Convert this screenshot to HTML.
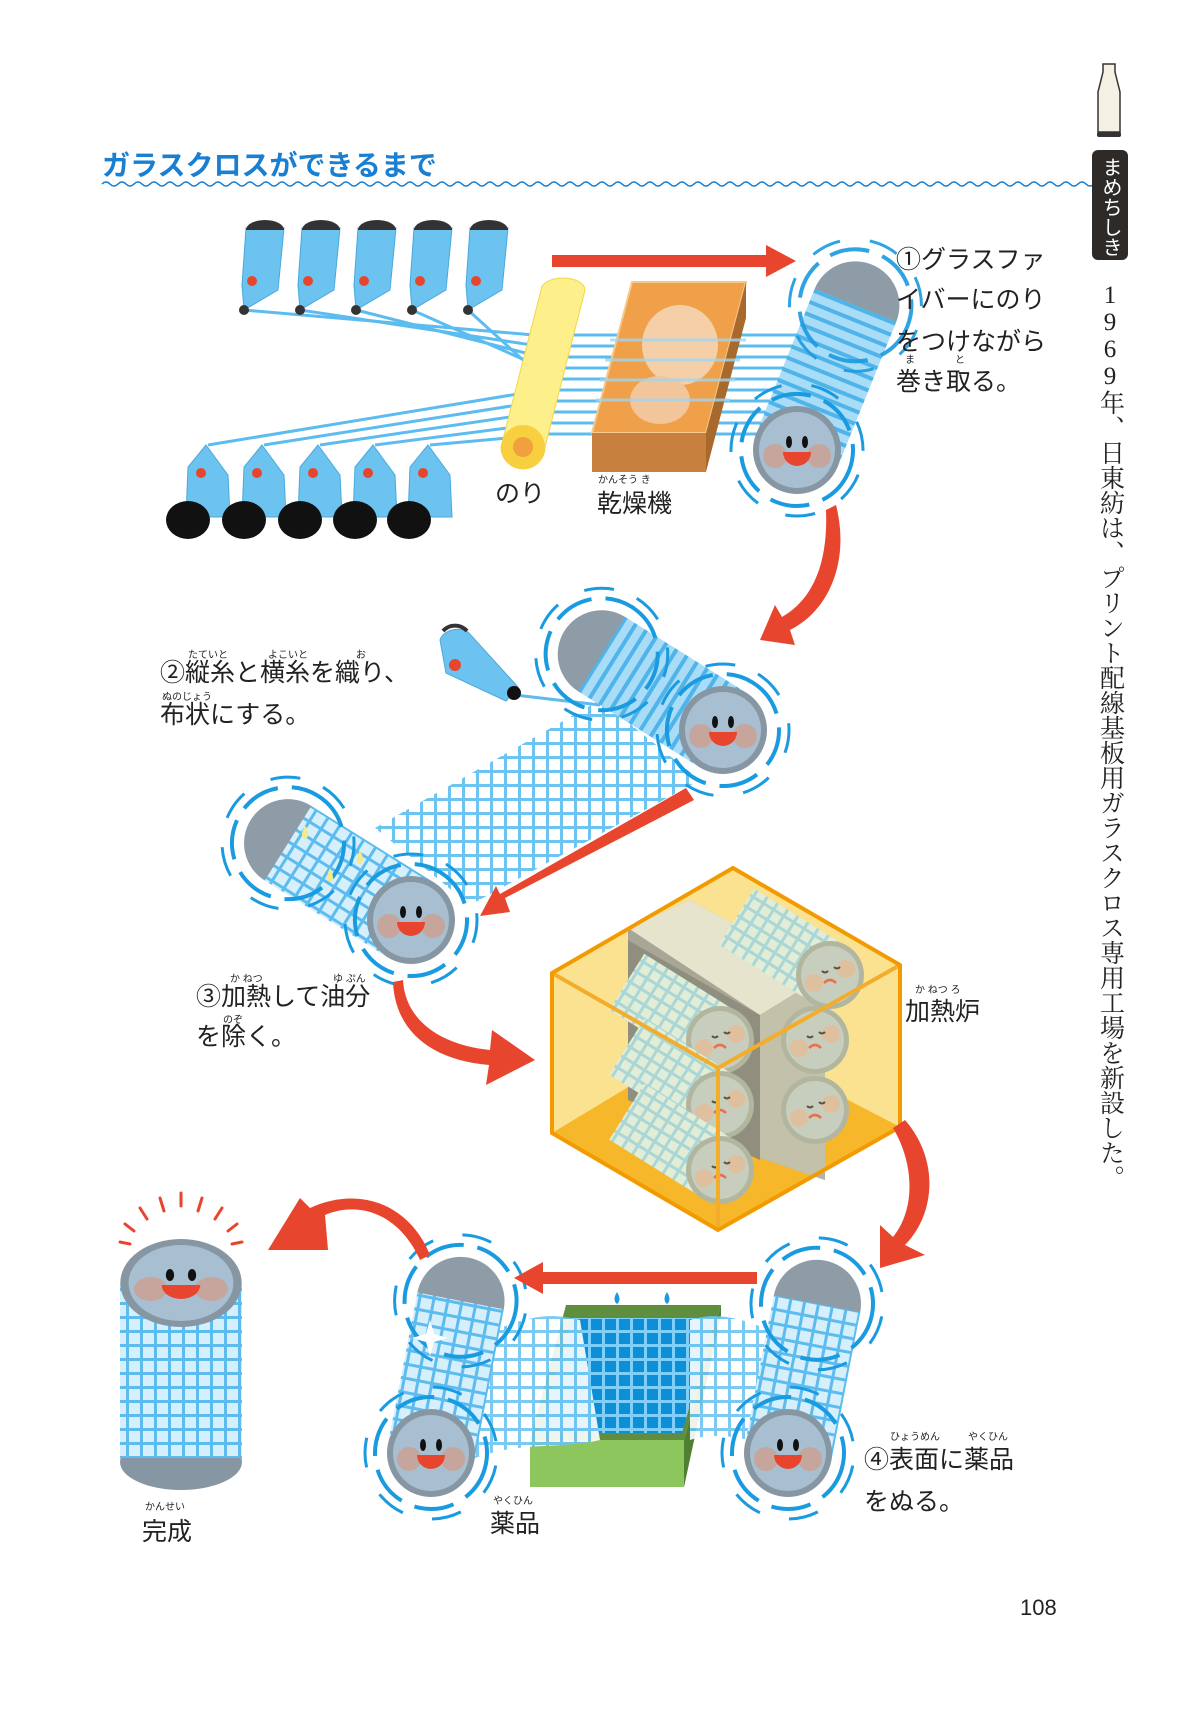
<!DOCTYPE html>
<html><head><meta charset="utf-8"><style>
html,body{margin:0;padding:0;background:#fff;}
svg{display:block}
text{font-family:"Liberation Sans","Noto Sans CJK JP",sans-serif;}
.t{font-size:25px;fill:#222}
.r{font-size:10px;fill:#222}
</style></head><body>
<svg width="1181" height="1733" viewBox="0 0 1181 1733" xmlns="http://www.w3.org/2000/svg">
<defs>
<pattern id="stripe" patternUnits="userSpaceOnUse" width="12" height="12"><rect width="12" height="12" fill="#a9dcf6"/><rect y="0" width="12" height="4" fill="#4fb4ea"/></pattern>
<pattern id="grid" patternUnits="userSpaceOnUse" width="14" height="14"><rect width="14" height="14" fill="#d6effc"/><rect width="14" height="3" fill="#5cbcf0"/><rect width="3" height="14" fill="#5cbcf0"/></pattern>
<pattern id="gridw" patternUnits="userSpaceOnUse" width="14" height="14"><rect width="14" height="14" fill="#fff"/><rect width="14" height="3" fill="#6cc4f2"/><rect width="3" height="14" fill="#6cc4f2"/></pattern>
<pattern id="gridg" patternUnits="userSpaceOnUse" width="12" height="12"><rect width="12" height="12" fill="#d8efe6"/><rect width="12" height="3" fill="#8fd0e6"/><rect width="3" height="12" fill="#8fd0e6"/></pattern>
<pattern id="gridb" patternUnits="userSpaceOnUse" width="14" height="14"><rect width="14" height="14" fill="#0d8fd8"/><rect width="14" height="3" fill="#7fd0f8"/><rect width="3" height="14" fill="#7fd0f8"/></pattern>
<g id="face">
<circle r="44" fill="#8796a3"/><circle r="38" fill="#a7bfd0"/>
<circle cx="-22" cy="6" r="12" fill="#c6a59c"/><circle cx="22" cy="6" r="12" fill="#c6a59c"/>
<ellipse cx="-8" cy="-8" rx="3" ry="6" fill="#111"/><ellipse cx="8" cy="-8" rx="3" ry="6" fill="#111"/>
<path d="M-14,2 L14,2 A14,14 0 0 1 -14,2 Z" fill="#e8452e"/>
</g>
<g id="sad">
<circle r="34" fill="#9aa69c"/><circle r="29" fill="#b6c6c4"/>
<circle cx="-16" cy="8" r="9" fill="#d4b39c"/><circle cx="16" cy="-6" r="9" fill="#d4b39c"/>
<path d="M-8,-4 q3,3 6,0 M4,-8 q3,3 6,0" stroke="#222" stroke-width="2" fill="none"/>
<path d="M-6,8 q6,-6 12,0" stroke="#e8452e" stroke-width="2.5" fill="none"/>
</g>
<g id="ring"><circle r="56" fill="none" stroke="#1a9be0" stroke-width="4" stroke-dasharray="40 14"/><circle r="66" fill="none" stroke="#1a9be0" stroke-width="3" stroke-dasharray="30 30"/></g>
</defs>

<!-- title -->
<text x="102" y="175" font-size="28" font-weight="bold" fill="#1a7fd0">ガラスクロスができるまで</text>
<path d="M102,184 q4,-4 8,0 t8,0 t8,0 t8,0 t8,0 t8,0 t8,0 t8,0 t8,0 t8,0 t8,0 t8,0 t8,0 t8,0 t8,0 t8,0 t8,0 t8,0 t8,0 t8,0 t8,0 t8,0 t8,0 t8,0 t8,0 t8,0 t8,0 t8,0 t8,0 t8,0 t8,0 t8,0 t8,0 t8,0 t8,0 t8,0 t8,0 t8,0 t8,0 t8,0 t8,0 t8,0 t8,0 t8,0 t8,0 t8,0 t8,0 t8,0 t8,0 t8,0 t8,0 t8,0 t8,0 t8,0 t8,0 t8,0 t8,0 t8,0 t8,0 t8,0 t8,0 t8,0 t8,0 t8,0 t8,0 t8,0 t8,0 t8,0 t8,0 t8,0 t8,0 t8,0 t8,0 t8,0 t8,0 t8,0 t8,0 t8,0 t8,0 t8,0 t8,0 t8,0 t8,0 t8,0 t8,0 t8,0 t8,0 t8,0 t8,0 t8,0 t8,0 t8,0 t8,0 t8,0 t8,0 t8,0 t8,0 t8,0 t8,0 t8,0 t8,0 t8,0 t8,0 t8,0 t8,0 t8,0 t8,0 t8,0 t8,0 t8,0 t8,0 t8,0 t8,0 t8,0 t8,0 t8,0 t8,0 t8,0 t8,0 t8,0 t8,0 t8,0 t8,0 t8,0 t8,0 t8,0 t8,0 t8,0" stroke="#1a7fd0" stroke-width="1.5" fill="none"/>

<!-- right column -->
<path d="M1103,64 h12 v8 l5,20 v40 h-22 v-40 l5,-20z" fill="#f4f1e4" stroke="#333" stroke-width="1.5"/>
<rect x="1097" y="132" width="24" height="5" rx="2" fill="#333"/>
<rect x="1092" y="150" width="36" height="110" rx="6" fill="#2e2a28"/>
<text x="1110" y="157" font-size="20" fill="#fff" style="writing-mode:vertical-rl;text-orientation:upright">まめちしき</text>
<text x="1110" y="282" font-size="25" fill="#222" style="writing-mode:vertical-rl;text-orientation:upright;font-family:'Liberation Serif','Noto Serif CJK SC',serif">1969年、日東紡は、プリント配線基板用ガラスクロス専用工場を新設した。</text>
<text x="1020" y="1615" font-size="22" fill="#222">108</text>

<!-- STEP 1 threads -->
<g stroke="#5cbcf0" stroke-width="3">
<line x1="244" y1="310" x2="545" y2="336"/><line x1="300" y1="310" x2="545" y2="347"/><line x1="356" y1="310" x2="545" y2="358"/><line x1="412" y1="310" x2="545" y2="369"/><line x1="468" y1="310" x2="545" y2="380"/>
<line x1="208" y1="445" x2="530" y2="392"/><line x1="264" y1="445" x2="530" y2="403"/><line x1="320" y1="445" x2="530" y2="414"/><line x1="375" y1="445" x2="530" y2="425"/><line x1="430" y1="445" x2="530" y2="436"/>
</g>
<g fill="#6cc3ef" stroke="#4aa8dc" stroke-width="1">
<path d="M246,228 h38 l-6,62 l-34,20 l-2,-25z"/><path d="M302,228 h38 l-6,62 l-34,20 l-2,-25z"/><path d="M358,228 h38 l-6,62 l-34,20 l-2,-25z"/><path d="M414,228 h38 l-6,62 l-34,20 l-2,-25z"/><path d="M470,228 h38 l-6,62 l-34,20 l-2,-25z"/>
</g>
<g fill="#333"><path d="M246,230 a19,10 0 0 1 38,0z"/><path d="M302,230 a19,10 0 0 1 38,0z"/><path d="M358,230 a19,10 0 0 1 38,0z"/><path d="M414,230 a19,10 0 0 1 38,0z"/><path d="M470,230 a19,10 0 0 1 38,0z"/>
<circle cx="244" cy="310" r="5"/><circle cx="300" cy="310" r="5"/><circle cx="356" cy="310" r="5"/><circle cx="412" cy="310" r="5"/><circle cx="468" cy="310" r="5"/></g>
<g fill="#e8452e"><circle cx="252" cy="281" r="5"/><circle cx="308" cy="281" r="5"/><circle cx="364" cy="281" r="5"/><circle cx="420" cy="281" r="5"/><circle cx="476" cy="281" r="5"/></g>
<g fill="#6cc3ef" stroke="#4aa8dc" stroke-width="1">
<path d="M206,445 l22,30 l2,42 h-44 l2,-50z"/><path d="M262,445 l22,30 l2,42 h-44 l2,-50z"/><path d="M318,445 l22,30 l2,42 h-44 l2,-50z"/><path d="M373,445 l22,30 l2,42 h-44 l2,-50z"/><path d="M428,445 l22,30 l2,42 h-44 l2,-50z"/>
</g>
<g fill="#111"><ellipse cx="188" cy="520" rx="22" ry="19"/><ellipse cx="244" cy="520" rx="22" ry="19"/><ellipse cx="300" cy="520" rx="22" ry="19"/><ellipse cx="355" cy="520" rx="22" ry="19"/><ellipse cx="409" cy="520" rx="22" ry="19"/></g>
<g fill="#e8452e"><circle cx="201" cy="473" r="5"/><circle cx="257" cy="473" r="5"/><circle cx="313" cy="473" r="5"/><circle cx="368" cy="473" r="5"/><circle cx="423" cy="473" r="5"/></g>
<g stroke="#5cbcf0" stroke-width="3"><line x1="545" y1="335" x2="800" y2="335"/><line x1="545" y1="346" x2="800" y2="346"/><line x1="545" y1="357" x2="800" y2="357"/><line x1="545" y1="368" x2="800" y2="368"/><line x1="545" y1="379" x2="800" y2="379"/><line x1="545" y1="390" x2="800" y2="390"/><line x1="545" y1="401" x2="800" y2="401"/><line x1="545" y1="412" x2="800" y2="412"/><line x1="545" y1="423" x2="800" y2="423"/><line x1="545" y1="434" x2="800" y2="434"/></g>
<path d="M541,290 a22,12 0 0 1 44,0 L545,447 a22,22 0 0 1 -44,0z" fill="#fdf08a" stroke="#f3d64a"/>
<circle cx="523" cy="447" r="22" fill="#f8cf3f"/><circle cx="523" cy="447" r="10" fill="#f0a03c"/>
<path d="M632,282 h114 l-40,151 h-114z" fill="#f1a04a" stroke="#f6c88a" stroke-width="2"/>
<path d="M746,282 v36 l-40,154 v-39z" fill="#a86a2c"/>
<rect x="592" y="433" width="114" height="39" fill="#c8803e"/>
<ellipse cx="680" cy="345" rx="38" ry="40" fill="#f5cfa8"/><ellipse cx="660" cy="400" rx="30" ry="24" fill="#f3c59a"/>
<g stroke="#9fd6f2" stroke-width="3" opacity=".8"><line x1="610" y1="340" x2="746" y2="340"/><line x1="605" y1="360" x2="740" y2="360"/><line x1="600" y1="380" x2="735" y2="380"/><line x1="596" y1="400" x2="730" y2="400"/></g>
<rect x="552" y="255" width="216" height="12" fill="#e8452e"/><path d="M766,245 L796,261 L766,277z" fill="#e8452e"/>
<g transform="translate(797,450) rotate(22)">
<circle cx="0" cy="-156" r="44" fill="#8e9ca8"/>
<rect x="-44" y="-156" width="88" height="156" fill="url(#stripe)"/>
<use href="#ring" transform="translate(0,-156)" opacity=".9"/>
<use href="#ring"/>
<g transform="rotate(-22)"><use href="#face"/></g>
</g>
<text class="t" x="896" y="268">①グラスファ</text>
<text class="t" x="896" y="308">イバーにのり</text>
<text class="t" x="896" y="350">をつけながら</text>
<text class="r" x="905" y="363">ま</text><text class="r" x="955" y="363">と</text>
<text class="t" x="896" y="390">巻き取る。</text>
<text class="t" x="495" y="502">のり</text>
<text class="r" x="598" y="483">かんそう き</text>
<text class="t" x="597" y="512">乾燥機</text>

<path d="M836,505 C850,560 830,610 790,630 L795,645 L760,640 L775,605 L782,617 C815,598 828,560 826,510z" fill="#e8452e"/>

<!-- STEP 2 -->
<path d="M600,700 L700,780 L470,905 L375,828z" fill="url(#gridw)"/>
<path d="M515,695 L600,705" stroke="#5cbcf0" stroke-width="3"/>
<path d="M440,640 a18,14 0 0 1 28,-8 l50,55 l-12,14 l-60,-28z" fill="#6cc3ef" stroke="#4aa8dc"/>
<circle cx="514" cy="693" r="7" fill="#111"/><circle cx="455" cy="665" r="6" fill="#e8452e"/>
<path d="M443,631 a16,16 0 0 1 24,0" stroke="#333" stroke-width="4" fill="none"/>
<g transform="translate(723,730) rotate(-58)">
<circle cx="0" cy="-143" r="44" fill="#8e9ca8"/>
<rect x="-44" y="-143" width="88" height="143" fill="url(#stripe)"/>
<use href="#ring" transform="translate(0,-143)"/><use href="#ring"/>
<g transform="rotate(58)"><use href="#face"/></g>
</g>
<g transform="translate(411,920) rotate(-58)">
<circle cx="0" cy="-145" r="44" fill="#8e9ca8"/>
<rect x="-44" y="-145" width="88" height="145" fill="url(#grid)"/>
<use href="#ring" transform="translate(0,-145)"/><use href="#ring"/>
<g transform="rotate(58)"><use href="#face"/></g>
</g>
<g fill="#f5e98a"><path d="M305,825 q-6,12 0,14 q6,-2 0,-14z"/><path d="M360,850 q-6,12 0,14 q6,-2 0,-14z"/><path d="M330,868 q-6,12 0,14 q6,-2 0,-14z"/></g>
<text class="r" x="188" y="658">たていと</text><text class="r" x="268" y="658">よこいと</text><text class="r" x="356" y="658">お</text>
<text class="t" x="160" y="681">②縦糸と横糸を織り、</text>
<text class="r" x="162" y="700">ぬのじょう</text>
<text class="t" x="160" y="723">布状にする。</text>
<path d="M686,788 L694,800 L505,898 L510,912 L480,916 L496,886 L500,894z" fill="#e8452e"/>

<!-- STEP 3 -->
<text class="r" x="230" y="982">か ねつ</text><text class="r" x="333" y="982">ゆ ぷん</text>
<text class="t" x="196" y="1005">③加熱して油分</text>
<text class="r" x="223" y="1023">のぞ</text>
<text class="t" x="196" y="1045">を除く。</text>
<path d="M403,980 C405,1020 440,1045 490,1050 L492,1030 L535,1060 L486,1085 L489,1065 C430,1060 395,1030 393,982z" fill="#e8452e"/>
<path d="M733,868 L900,965 L900,1127 L718,1230 L552,1133 L552,973z" fill="#fbe08a"/>
<path d="M552,1133 L640,1080 L800,1075 L900,1127 L718,1230z" fill="#f5a800"/>
<path d="M628,928 L690,900 L825,975 L825,1180 L760,1158 L760,1015 L628,940z" fill="#8d9190"/>
<path d="M628,928 L690,900 L825,975 L760,1015z" fill="#dfe3d9"/>
<path d="M760,1015 L825,975 L825,1180 L760,1158z" fill="#b0b4aa"/>
<path d="M628,940 L760,1015 L760,1160 L628,1100z" fill="#6c7070"/>
<g transform="translate(830,975) rotate(-58)"><rect x="-33" y="-110" width="66" height="110" fill="url(#gridg)"/></g><use href="#sad" transform="translate(830,975)"/>
<use href="#sad" transform="translate(815,1040)"/><use href="#sad" transform="translate(815,1110)"/>
<g transform="translate(720,1040) rotate(-58)"><rect x="-33" y="-110" width="66" height="110" fill="url(#gridg)"/></g><use href="#sad" transform="translate(720,1040)"/>
<g transform="translate(720,1105) rotate(-58)"><rect x="-33" y="-110" width="66" height="110" fill="url(#gridg)"/></g><use href="#sad" transform="translate(720,1105)"/>
<g transform="translate(720,1170) rotate(-58)"><rect x="-33" y="-110" width="66" height="110" fill="url(#gridg)"/></g><use href="#sad" transform="translate(720,1170)"/>
<path d="M552,973 L718,1068 L900,965 M718,1068 L718,1230" stroke="#f29a00" stroke-width="4" fill="none"/>
<path d="M733,868 L900,965 L900,1127 L718,1230 L552,1133 L552,973z" fill="#fde9a8" fill-opacity=".25" stroke="#f29a00" stroke-width="4"/>
<text class="r" x="915" y="993">か ねつ ろ</text>
<text class="t" x="905" y="1020">加熱炉</text>
<path d="M905,1120 C940,1160 935,1215 905,1245 L925,1255 L880,1268 L880,1225 L893,1237 C915,1210 915,1165 893,1128z" fill="#e8452e"/>

<!-- STEP 4 -->
<path d="M566,1305 h155 l-37,135 h-154z" fill="#5f8f3e"/>
<path d="M572,1318 h143 l-33,115 h-143z" fill="url(#gridb)"/>
<rect x="530" y="1440" width="154" height="47" fill="#8cc65c"/>
<path d="M721,1305 v10 l-37,172 v-47z" fill="#4f7f30"/>
<g fill="#1a9be0"><path d="M617,1292 q-5,8 0,12 q5,-4 0,-12z"/><path d="M667,1292 q-5,8 0,12 q5,-4 0,-12z"/></g>
<path d="M470,1340 C520,1320 540,1310 580,1320 L600,1440 C560,1450 520,1440 470,1460z" fill="url(#gridw)" opacity=".9"/>
<path d="M690,1320 C720,1310 750,1320 790,1340 L790,1450 C750,1440 720,1430 690,1440z" fill="url(#gridw)" opacity=".9"/>
<g transform="translate(431,1453) rotate(11)">
<circle cx="0" cy="-155" r="44" fill="#8e9ca8"/>
<rect x="-44" y="-155" width="88" height="155" fill="url(#grid)"/>
<use href="#ring" transform="translate(0,-155)"/><use href="#ring"/>
<g transform="rotate(-11)"><use href="#face"/></g>
</g>
<path d="M430,1320 l4,14 l14,4 l-14,4 l-4,14 l-4,-14 l-14,-4 l14,-4z" fill="#fff"/>
<g transform="translate(788,1453) rotate(11)">
<circle cx="0" cy="-152" r="44" fill="#8e9ca8"/>
<rect x="-44" y="-152" width="88" height="152" fill="url(#grid)"/>
<use href="#ring" transform="translate(0,-152)"/><use href="#ring"/>
<g transform="rotate(-11)"><use href="#face"/></g>
</g>
<rect x="541" y="1272" width="216" height="12" fill="#e8452e"/><path d="M543,1262 L514,1278 L543,1294z" fill="#e8452e"/>
<path d="M420,1260 C400,1215 360,1200 325,1215 L328,1250 L268,1250 L300,1198 L310,1208 C360,1185 410,1205 430,1255z" fill="#e8452e"/>
<ellipse cx="181" cy="1462" rx="61" ry="28" fill="#8796a3"/>
<rect x="120" y="1283" width="122" height="175" fill="url(#grid)"/>
<g transform="translate(181,1283) scale(1.38,1)"><use href="#face"/></g>
<g stroke="#e8452e" stroke-width="3" stroke-linecap="round"><line x1="181" y1="1193" x2="181" y2="1206"/><line x1="160" y1="1198" x2="164" y2="1211"/><line x1="202" y1="1198" x2="198" y2="1211"/><line x1="140" y1="1208" x2="147" y2="1219"/><line x1="222" y1="1208" x2="215" y2="1219"/><line x1="125" y1="1224" x2="134" y2="1231"/><line x1="237" y1="1224" x2="228" y2="1231"/><line x1="120" y1="1242" x2="130" y2="1244"/><line x1="242" y1="1242" x2="232" y2="1244"/></g>
<text class="r" x="145" y="1510">かんせい</text>
<text class="t" x="142" y="1540">完成</text>
<text class="r" x="493" y="1504">やくひん</text>
<text class="t" x="490" y="1532">薬品</text>
<text class="r" x="890" y="1440">ひょうめん</text><text class="r" x="968" y="1440">やくひん</text>
<text class="t" x="864" y="1468">④表面に薬品</text>
<text class="t" x="864" y="1510">をぬる。</text>
</svg>
</body></html>
